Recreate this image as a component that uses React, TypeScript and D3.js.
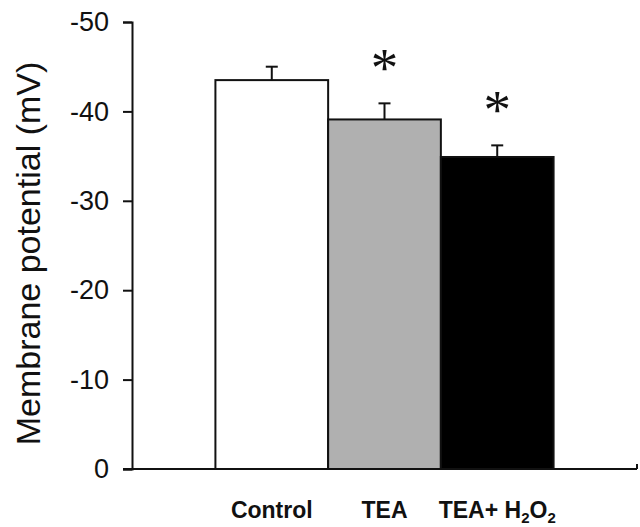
import { useRef, useEffect } from 'react';
import * as d3 from 'd3';

const groups = ['Control', 'TEA', 'TEA+ H2O2'];
const potentials = [-43.5, -39.1, -34.9];
const errors = [1.5, 1.8, 1.3];
const significant = [false, true, true];
const yTicks = [0, -10, -20, -30, -40, -50];

function App() {
  const svgRef = useRef<SVGSVGElement>(null);
  const width = 640;
  const height = 527;

  useEffect(() => {
    const svg = d3.select(svgRef.current);
    svg.selectAll('*').remove();

    const left = 132;
    const right = 637;
    const bottom = 469;
    const top = 22;

    const x = d3
      .scaleBand()
      .domain(groups)
      .range([left, right])
      .paddingInner(0)
      .paddingOuter(0.74);

    const y = d3.scaleLinear().domain([0, -50]).range([bottom, top]);

    const data = groups.map((g, i) => ({
      g,
      v: potentials[i],
      e: errors[i],
      sig: significant[i],
    }));
    const fills = ['#ffffff', '#b0b0b0', '#000000'];

    // bars
    svg
      .selectAll('.bar')
      .data(data)
      .join('rect')
      .attr('class', 'bar')
      .attr('x', (d) => x(d.g)!)
      .attr('y', (d) => y(d.v))
      .attr('width', x.bandwidth())
      .attr('height', (d) => y(0) - y(d.v))
      .attr('fill', (_, i) => fills[i])
      .attr('stroke', '#111')
      .attr('stroke-width', 2);

    // error bars (upward only) + significance stars
    const cap = 6;
    data.forEach((d) => {
      const cx = x(d.g)! + x.bandwidth() / 2;
      svg
        .append('line')
        .attr('x1', cx)
        .attr('x2', cx)
        .attr('y1', y(d.v))
        .attr('y2', y(d.v - d.e))
        .attr('stroke', '#111')
        .attr('stroke-width', 2);
      svg
        .append('line')
        .attr('x1', cx - cap)
        .attr('x2', cx + cap)
        .attr('y1', y(d.v - d.e))
        .attr('y2', y(d.v - d.e))
        .attr('stroke', '#111')
        .attr('stroke-width', 2);
      if (d.sig) {
        svg
          .append('text')
          .attr('x', cx)
          .attr('y', y(d.v - d.e) - 17)
          .attr('text-anchor', 'middle')
          .attr('font-family', 'Liberation Serif, serif')
          .attr('font-size', 55)
          .attr('fill', '#111')
          .text('*');
      }
    });

    // y axis
    const yAxis = svg
      .append('g')
      .attr('transform', `translate(${left},0)`)
      .call(
        d3
          .axisLeft(y)
          .tickValues(yTicks)
          .tickSize(9)
          .tickPadding(14)
          .tickFormat((d) => `${d}`)
      );
    yAxis.select('.domain').attr('stroke', '#111').attr('stroke-width', 2);
    yAxis.selectAll('.tick line').attr('stroke', '#111').attr('stroke-width', 2);
    yAxis
      .selectAll('.tick text')
      .attr('font-family', 'Liberation Sans, Arial, sans-serif')
      .attr('font-size', 27)
      .attr('fill', '#111');

    // x axis line with end tick
    svg
      .append('line')
      .attr('x1', left - 9)
      .attr('x2', right)
      .attr('y1', bottom)
      .attr('y2', bottom)
      .attr('stroke', '#111')
      .attr('stroke-width', 2);
    svg
      .append('line')
      .attr('x1', right)
      .attr('x2', right)
      .attr('y1', bottom)
      .attr('y2', bottom - 5)
      .attr('stroke', '#111')
      .attr('stroke-width', 2);

    // category labels
    const labels = svg
      .selectAll('.cat')
      .data(groups)
      .join('text')
      .attr('class', 'cat')
      .attr('x', (d) => x(d)! + x.bandwidth() / 2)
      .attr('y', 518)
      .attr('text-anchor', 'middle')
      .attr('font-family', 'Liberation Sans, Arial, sans-serif')
      .attr('font-weight', 'bold')
      .attr('font-size', 23)
      .attr('fill', '#111');
    labels.each(function (d) {
      const t = d3.select(this);
      if (d === 'TEA+ H2O2') {
        t.append('tspan').text('TEA+ H');
        t.append('tspan').attr('font-size', 15).attr('dy', 5).text('2');
        t.append('tspan').attr('dy', -5).text('O');
        t.append('tspan').attr('font-size', 15).attr('dy', 5).text('2');
      } else {
        t.text(d);
      }
    });

    // y axis title
    svg
      .append('text')
      .attr('transform', `translate(40,${(top + bottom) / 2 + 8}) rotate(-90)`)
      .attr('text-anchor', 'middle')
      .attr('font-family', 'Liberation Sans, Arial, sans-serif')
      .attr('font-size', 34)
      .attr('fill', '#111')
      .text('Membrane potential (mV)');
  }, []);

  return (
    <svg
      ref={svgRef}
      width={width}
      height={height}
      style={{ position: 'absolute', left: 0, top: 0, background: '#fff' }}
    ></svg>
  );
}

export default App;
